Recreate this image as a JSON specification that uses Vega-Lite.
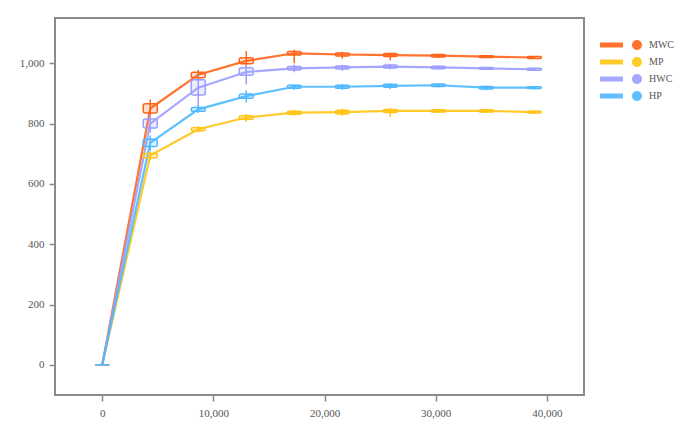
{
  "$schema": "https://vega.github.io/schema/vega-lite/v6.json",
  "width": 529,
  "height": 377,
  "autosize": "none",
  "padding": {"left": 55, "top": 18, "right": 115, "bottom": 39},
  "background": "white",
  "config": {
    "view": {"stroke": "#8a8a8a", "strokeWidth": 2},
    "font": "Liberation Serif",
    "axis": {
      "domain": false,
      "grid": false,
      "tickColor": "#8a8a8a",
      "tickSize": 6,
      "tickWidth": 1.5,
      "labelFont": "Liberation Serif",
      "labelFontSize": 11,
      "labelColor": "#555555",
      "title": null
    }
  },
  "data": {
    "values": [
      {"s": "MWC", "t": 0, "v": 0, "lo": 0, "hi": 0, "q1": 0, "q3": 0},
      {"s": "MWC", "t": 4320, "v": 850, "lo": 822, "hi": 880, "q1": 835, "q3": 866},
      {"s": "MWC", "t": 8640, "v": 962, "lo": 945, "hi": 978, "q1": 952, "q3": 970},
      {"s": "MWC", "t": 12960, "v": 1008, "lo": 985, "hi": 1040, "q1": 998, "q3": 1018},
      {"s": "MWC", "t": 17280, "v": 1033, "lo": 1000, "hi": 1045, "q1": 1027, "q3": 1039},
      {"s": "MWC", "t": 21600, "v": 1029, "lo": 1015, "hi": 1038, "q1": 1024, "q3": 1034},
      {"s": "MWC", "t": 25920, "v": 1027, "lo": 1010, "hi": 1035, "q1": 1022, "q3": 1032},
      {"s": "MWC", "t": 30240, "v": 1025, "lo": 1018, "hi": 1031, "q1": 1021, "q3": 1029},
      {"s": "MWC", "t": 34560, "v": 1022, "lo": 1017, "hi": 1027, "q1": 1019, "q3": 1025},
      {"s": "MWC", "t": 38880, "v": 1019, "lo": 1014, "hi": 1024, "q1": 1016, "q3": 1022},
      {"s": "MP", "t": 0, "v": 0, "lo": 0, "hi": 0, "q1": 0, "q3": 0},
      {"s": "MP", "t": 4320, "v": 694, "lo": 678, "hi": 708, "q1": 687, "q3": 701},
      {"s": "MP", "t": 8640, "v": 781, "lo": 770, "hi": 792, "q1": 776, "q3": 786},
      {"s": "MP", "t": 12960, "v": 820, "lo": 805, "hi": 832, "q1": 814, "q3": 826},
      {"s": "MP", "t": 17280, "v": 836, "lo": 826, "hi": 846, "q1": 831, "q3": 841},
      {"s": "MP", "t": 21600, "v": 838, "lo": 826, "hi": 850, "q1": 832, "q3": 844},
      {"s": "MP", "t": 25920, "v": 842, "lo": 822, "hi": 852, "q1": 837, "q3": 847},
      {"s": "MP", "t": 30240, "v": 842, "lo": 836, "hi": 848, "q1": 838, "q3": 846},
      {"s": "MP", "t": 34560, "v": 842, "lo": 836, "hi": 848, "q1": 838, "q3": 846},
      {"s": "MP", "t": 38880, "v": 838, "lo": 832, "hi": 844, "q1": 835, "q3": 841},
      {"s": "HWC", "t": 0, "v": 0, "lo": 0, "hi": 0, "q1": 0, "q3": 0},
      {"s": "HWC", "t": 4320, "v": 800, "lo": 770, "hi": 830, "q1": 785, "q3": 815},
      {"s": "HWC", "t": 8640, "v": 919, "lo": 855, "hi": 960, "q1": 895, "q3": 945},
      {"s": "HWC", "t": 12960, "v": 971, "lo": 930, "hi": 995, "q1": 960, "q3": 985},
      {"s": "HWC", "t": 17280, "v": 983, "lo": 970, "hi": 995, "q1": 978, "q3": 989},
      {"s": "HWC", "t": 21600, "v": 986, "lo": 975, "hi": 995, "q1": 981, "q3": 991},
      {"s": "HWC", "t": 25920, "v": 989, "lo": 980, "hi": 997, "q1": 984, "q3": 994},
      {"s": "HWC", "t": 30240, "v": 986, "lo": 980, "hi": 992, "q1": 982, "q3": 990},
      {"s": "HWC", "t": 34560, "v": 983, "lo": 978, "hi": 988, "q1": 980, "q3": 986},
      {"s": "HWC", "t": 38880, "v": 980, "lo": 975, "hi": 985, "q1": 977, "q3": 983},
      {"s": "HP", "t": 0, "v": 0, "lo": 0, "hi": 0, "q1": 0, "q3": 0},
      {"s": "HP", "t": 4320, "v": 736, "lo": 710, "hi": 760, "q1": 724, "q3": 748},
      {"s": "HP", "t": 8640, "v": 847, "lo": 835, "hi": 860, "q1": 841, "q3": 853},
      {"s": "HP", "t": 12960, "v": 891, "lo": 870, "hi": 910, "q1": 884, "q3": 898},
      {"s": "HP", "t": 17280, "v": 922, "lo": 912, "hi": 930, "q1": 917, "q3": 927},
      {"s": "HP", "t": 21600, "v": 922, "lo": 912, "hi": 931, "q1": 917, "q3": 927},
      {"s": "HP", "t": 25920, "v": 925, "lo": 914, "hi": 934, "q1": 920, "q3": 930},
      {"s": "HP", "t": 30240, "v": 927, "lo": 920, "hi": 933, "q1": 923, "q3": 931},
      {"s": "HP", "t": 34560, "v": 919, "lo": 910, "hi": 926, "q1": 915, "q3": 923},
      {"s": "HP", "t": 38880, "v": 919, "lo": 913, "hi": 925, "q1": 916, "q3": 922}
    ]
  },
  "encoding": {
    "x": {
      "field": "t",
      "type": "quantitative",
      "scale": {"domain": [-3800, 42900], "nice": false, "zero": false},
      "axis": {"values": [0, 10000, 20000, 30000, 40000], "format": ",d", "labelPadding": 6}
    }
  },
  "layer": [
    {
      "mark": {"type": "point", "filled": true, "opacity": 0},
      "encoding": {
        "y": {
          "field": "v",
          "type": "quantitative",
          "scale": {"domain": [-100, 1150], "nice": false},
          "axis": {"values": [0, 200, 400, 600, 800, 1000], "format": ",d", "labelPadding": 5}
        },
        "color": {
          "field": "s",
          "type": "nominal",
          "scale": {"domain": ["MWC", "MP", "HWC", "HP"], "range": ["#ff6418", "#ffc414", "#9c9eff", "#4fb9ff"]},
          "legend": {
            "title": null,
            "orient": "none",
            "legendX": 577,
            "legendY": 22,
            "symbolType": "M-7.4,-0.5H-2.8V0.5H-7.4Z M-1,0A1,1 0 1,0 1,0A1,1 0 1,0 -1,0Z",
            "symbolSize": 100,
            "symbolOpacity": 1,
            "symbolStrokeWidth": 0,
            "labelFont": "Liberation Serif",
            "labelFontSize": 10,
            "labelColor": "#555555",
            "labelOffset": 7,
            "rowPadding": 7
          }
        }
      }
    },
    {
      "mark": {"type": "line", "strokeWidth": 2.2, "opacity": 0.9},
      "encoding": {
        "y": {"field": "v", "type": "quantitative"},
        "color": {"field": "s", "type": "nominal"},
        "detail": {"field": "s"}
      }
    },
    {
      "mark": {"type": "rule", "strokeWidth": 1.5},
      "encoding": {
        "y": {"field": "lo", "type": "quantitative"},
        "y2": {"field": "hi"},
        "color": {"field": "s", "type": "nominal"}
      }
    },
    {
      "mark": {"type": "bar", "width": 14, "cornerRadius": 2, "fillOpacity": 0.2, "strokeWidth": 1.5},
      "encoding": {
        "y": {"field": "q1", "type": "quantitative"},
        "y2": {"field": "q3"},
        "color": {"field": "s", "type": "nominal"},
        "stroke": {
          "field": "s",
          "type": "nominal",
          "scale": {"domain": ["MWC", "MP", "HWC", "HP"], "range": ["#ff6418", "#ffc414", "#9c9eff", "#4fb9ff"]},
          "legend": null
        }
      }
    }
  ]
}
